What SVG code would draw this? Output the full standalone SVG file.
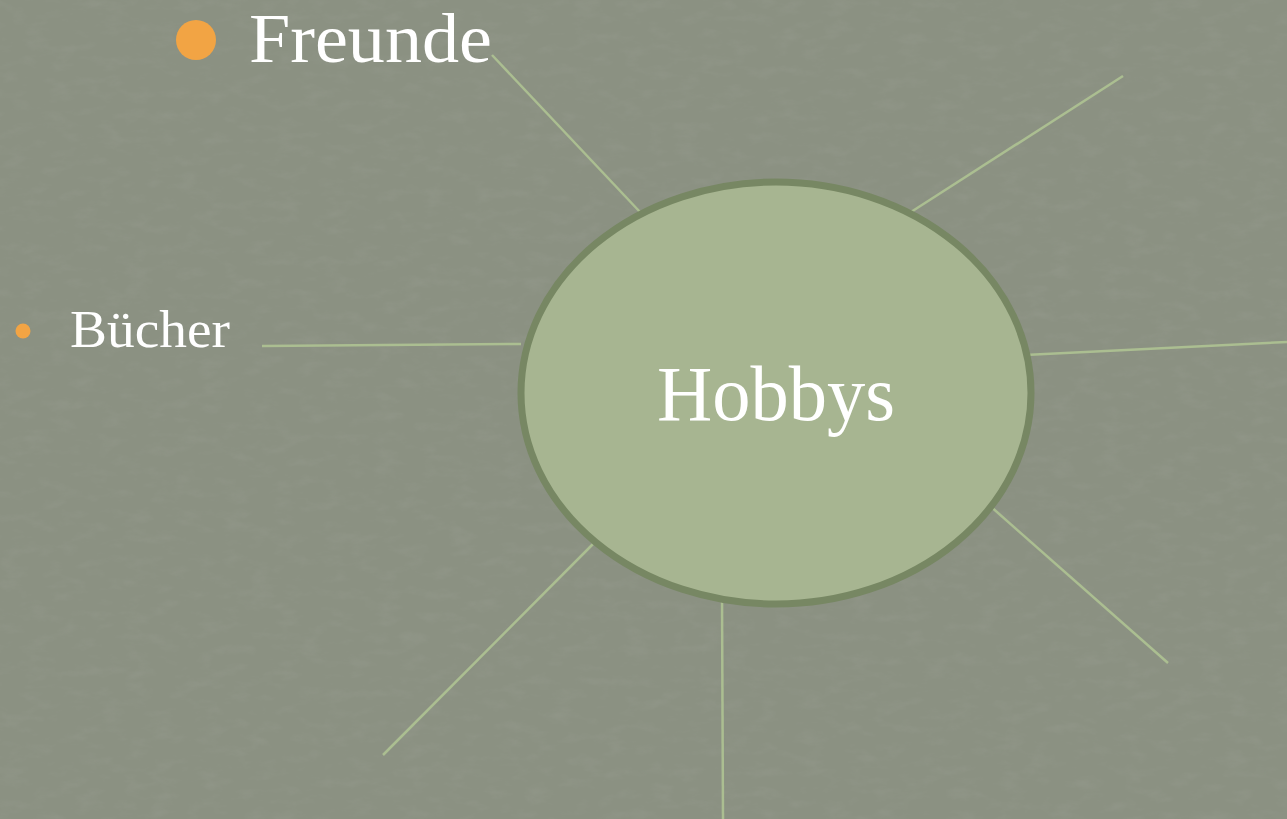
<svg xmlns="http://www.w3.org/2000/svg" width="1287" height="819" viewBox="0 0 1287 819">
  <defs>
    <filter id="tex" x="0" y="0" width="100%" height="100%">
      <feTurbulence type="fractalNoise" baseFrequency="0.04 0.09" numOctaves="4" seed="7" result="n"/>
      <feColorMatrix type="matrix" values="0 0 0 0 0.35  0 0 0 0 0.37  0 0 0 0 0.32  0 0 0 -1.4 0.75" in="n"/>
    </filter>
    <style>
      .conn { stroke: #abbe91; stroke-width: 2.5; fill: none; }
      .txt { fill: #ffffff; font-family: "Liberation Serif", "DejaVu Serif", serif; }
      .bullet { fill: #f2a444; }
    </style>
  </defs>
  <rect width="1287" height="819" fill="#8b9182"/>
  <rect width="1287" height="819" filter="url(#tex)" opacity="0.35"/>
  <g id="connectors">
    <line class="conn" x1="492" y1="55" x2="640" y2="212"/>
    <line class="conn" x1="1123" y1="76" x2="911" y2="212"/>
    <line class="conn" x1="262" y1="346" x2="521" y2="344"/>
    <line class="conn" x1="1025" y1="355" x2="1287" y2="342"/>
    <line class="conn" x1="989" y1="505" x2="1168" y2="663"/>
    <line class="conn" x1="722" y1="596" x2="723" y2="819"/>
    <line class="conn" x1="594" y1="543" x2="383" y2="755"/>
  </g>
  <g id="hobbys">
    <ellipse cx="776" cy="393" rx="255" ry="211" fill="#a7b591" stroke="#778763" stroke-width="7"/>
    <text class="txt" x="776" y="420" font-size="79" text-anchor="middle" textLength="238" lengthAdjust="spacingAndGlyphs">Hobbys</text>
  </g>
  <g id="freunde">
    <circle class="bullet" cx="196" cy="40" r="20"/>
    <text class="txt" x="249" y="62" font-size="70" textLength="243" lengthAdjust="spacingAndGlyphs">Freunde</text>
  </g>
  <g id="buecher">
    <circle class="bullet" cx="23" cy="331" r="7.5"/>
    <text class="txt" x="70" y="347" font-size="52" textLength="160" lengthAdjust="spacingAndGlyphs">Bücher</text>
  </g>
</svg>
